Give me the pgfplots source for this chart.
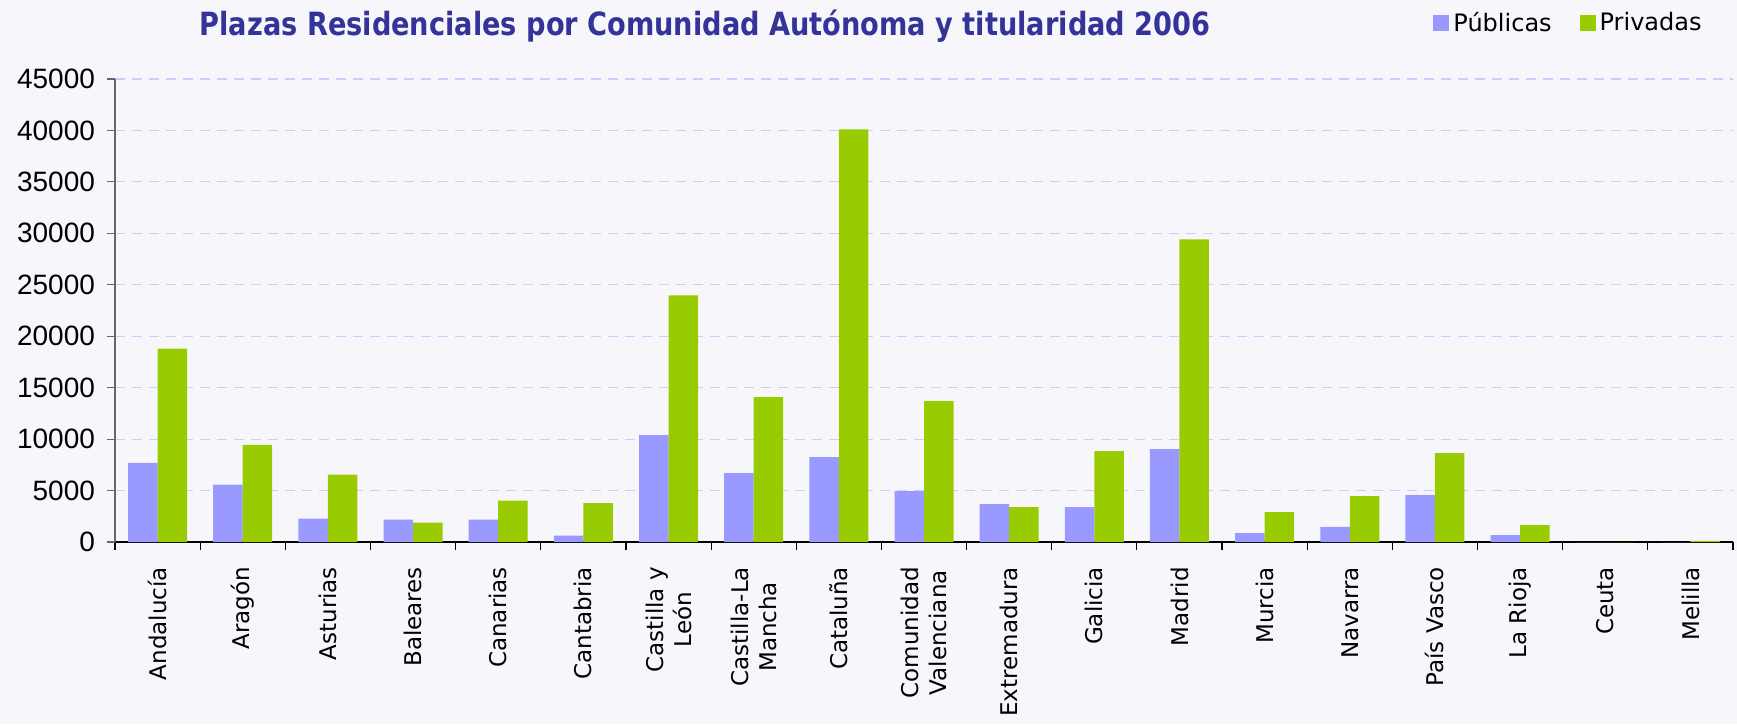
\documentclass[border=0pt]{standalone}
\usepackage{pgfplots}
\pgfplotsset{compat=1.18}
\usepackage{fontspec}
\setmainfont{DejaVu Sans}
\newfontfamily\arialfont{Liberation Sans}
\newfontfamily\titlefont[FakeStretch=0.85]{DejaVu Sans}

\definecolor{bgc}{HTML}{F7F7FB}
\definecolor{pubc}{HTML}{9999FF}
\definecolor{privc}{HTML}{99CC00}
\definecolor{gridc}{HTML}{CCCCFF}
\definecolor{titlec}{HTML}{333399}

\begin{document}
\begin{tikzpicture}
\fill[bgc] (-57.5pt,-91pt) rectangle (811pt,271pt);
\path[use as bounding box] (-57.5pt,-91pt) rectangle (811pt,271pt);
\begin{axis}[
  scale only axis,
  width=809pt, height=231.5pt,
  ybar=0pt, bar width=14.75pt,
  ymin=0, ymax=45000, ytick={0,5000,...,45000},
  xmin=-0.5, xmax=18.5, enlargelimits=false,
  xtick={0,...,18},
  xticklabels={Andalucía,Aragón,Asturias,Baleares,Canarias,Cantabria,
    {Castilla y\\León},{Castilla-La\\Mancha},Cataluña,{Comunidad\\Valenciana},
    Extremadura,Galicia,Madrid,Murcia,Navarra,País Vasco,La Rioja,Ceuta,Melilla},
  minor xtick={-0.5,0.5,...,18.5},
  axis lines*=left,
  tick align=outside,
  major tick length=4pt, minor tick length=4pt,
  major x tick style={draw=none},
  minor x tick style={black, line width=0.6pt},
  ytick style={gray!80!black, line width=0.6pt},
  x axis line style={black, line width=0.7pt},
  y axis line style={gray!80!black, line width=0.7pt},
  ymajorgrids,
  y grid style={gridc, dash pattern=on 5pt off 3.5pt, line width=0.6pt},
  scaled y ticks=false,
  /pgf/number format/assume math mode=true,
  /pgf/number format/1000 sep={},
  yticklabel style={font=\arialfont\fontsize{14}{15}\selectfont},
  yticklabel shift=2.5pt,
  xticklabel style={font=\fontsize{11.5}{14}\selectfont, rotate=90, anchor=east, align=center},
  xticklabel shift=5pt,
  every axis title shift=0pt,
  title={\titlefont\bfseries Plazas Residenciales por Comunidad Autónoma y titularidad 2006},
  title style={font=\fontsize{16}{18}\selectfont, text=titlec, at={(axis description cs:0.3647,1.0950)}, anchor=base},
  legend cell align=left,
  legend columns=2,
  legend image code/.code={\fill[#1, draw=none] (0pt,-4pt) rectangle (8pt,4pt);},
  legend style={draw=none, fill=none, inner sep=0pt, at={(axis description cs:0.8146,1.1210)}, anchor=west,
    font=\fontsize{12}{14}\selectfont, /tikz/every even column/.append style={column sep=12pt}},
]
\addplot[fill=pubc, draw=none] coordinates {
  (0,7700) (1,5570) (2,2270) (3,2170) (4,2170) (5,615) (6,10390) (7,6700) (8,8250)
  (9,4950) (10,3690) (11,3400) (12,9030) (13,870) (14,1460) (15,4570) (16,680) (17,0) (18,0)};
\addplot[fill=privc, draw=none] coordinates {
  (0,18800) (1,9450) (2,6540) (3,1880) (4,4020) (5,3790) (6,23980) (7,14080) (8,40100)
  (9,13690) (10,3400) (11,8830) (12,29420) (13,2910) (14,4470) (15,8650) (16,1650) (17,0) (18,100)};
\legend{Públicas,Privadas}
\end{axis}
\end{tikzpicture}
\end{document}
